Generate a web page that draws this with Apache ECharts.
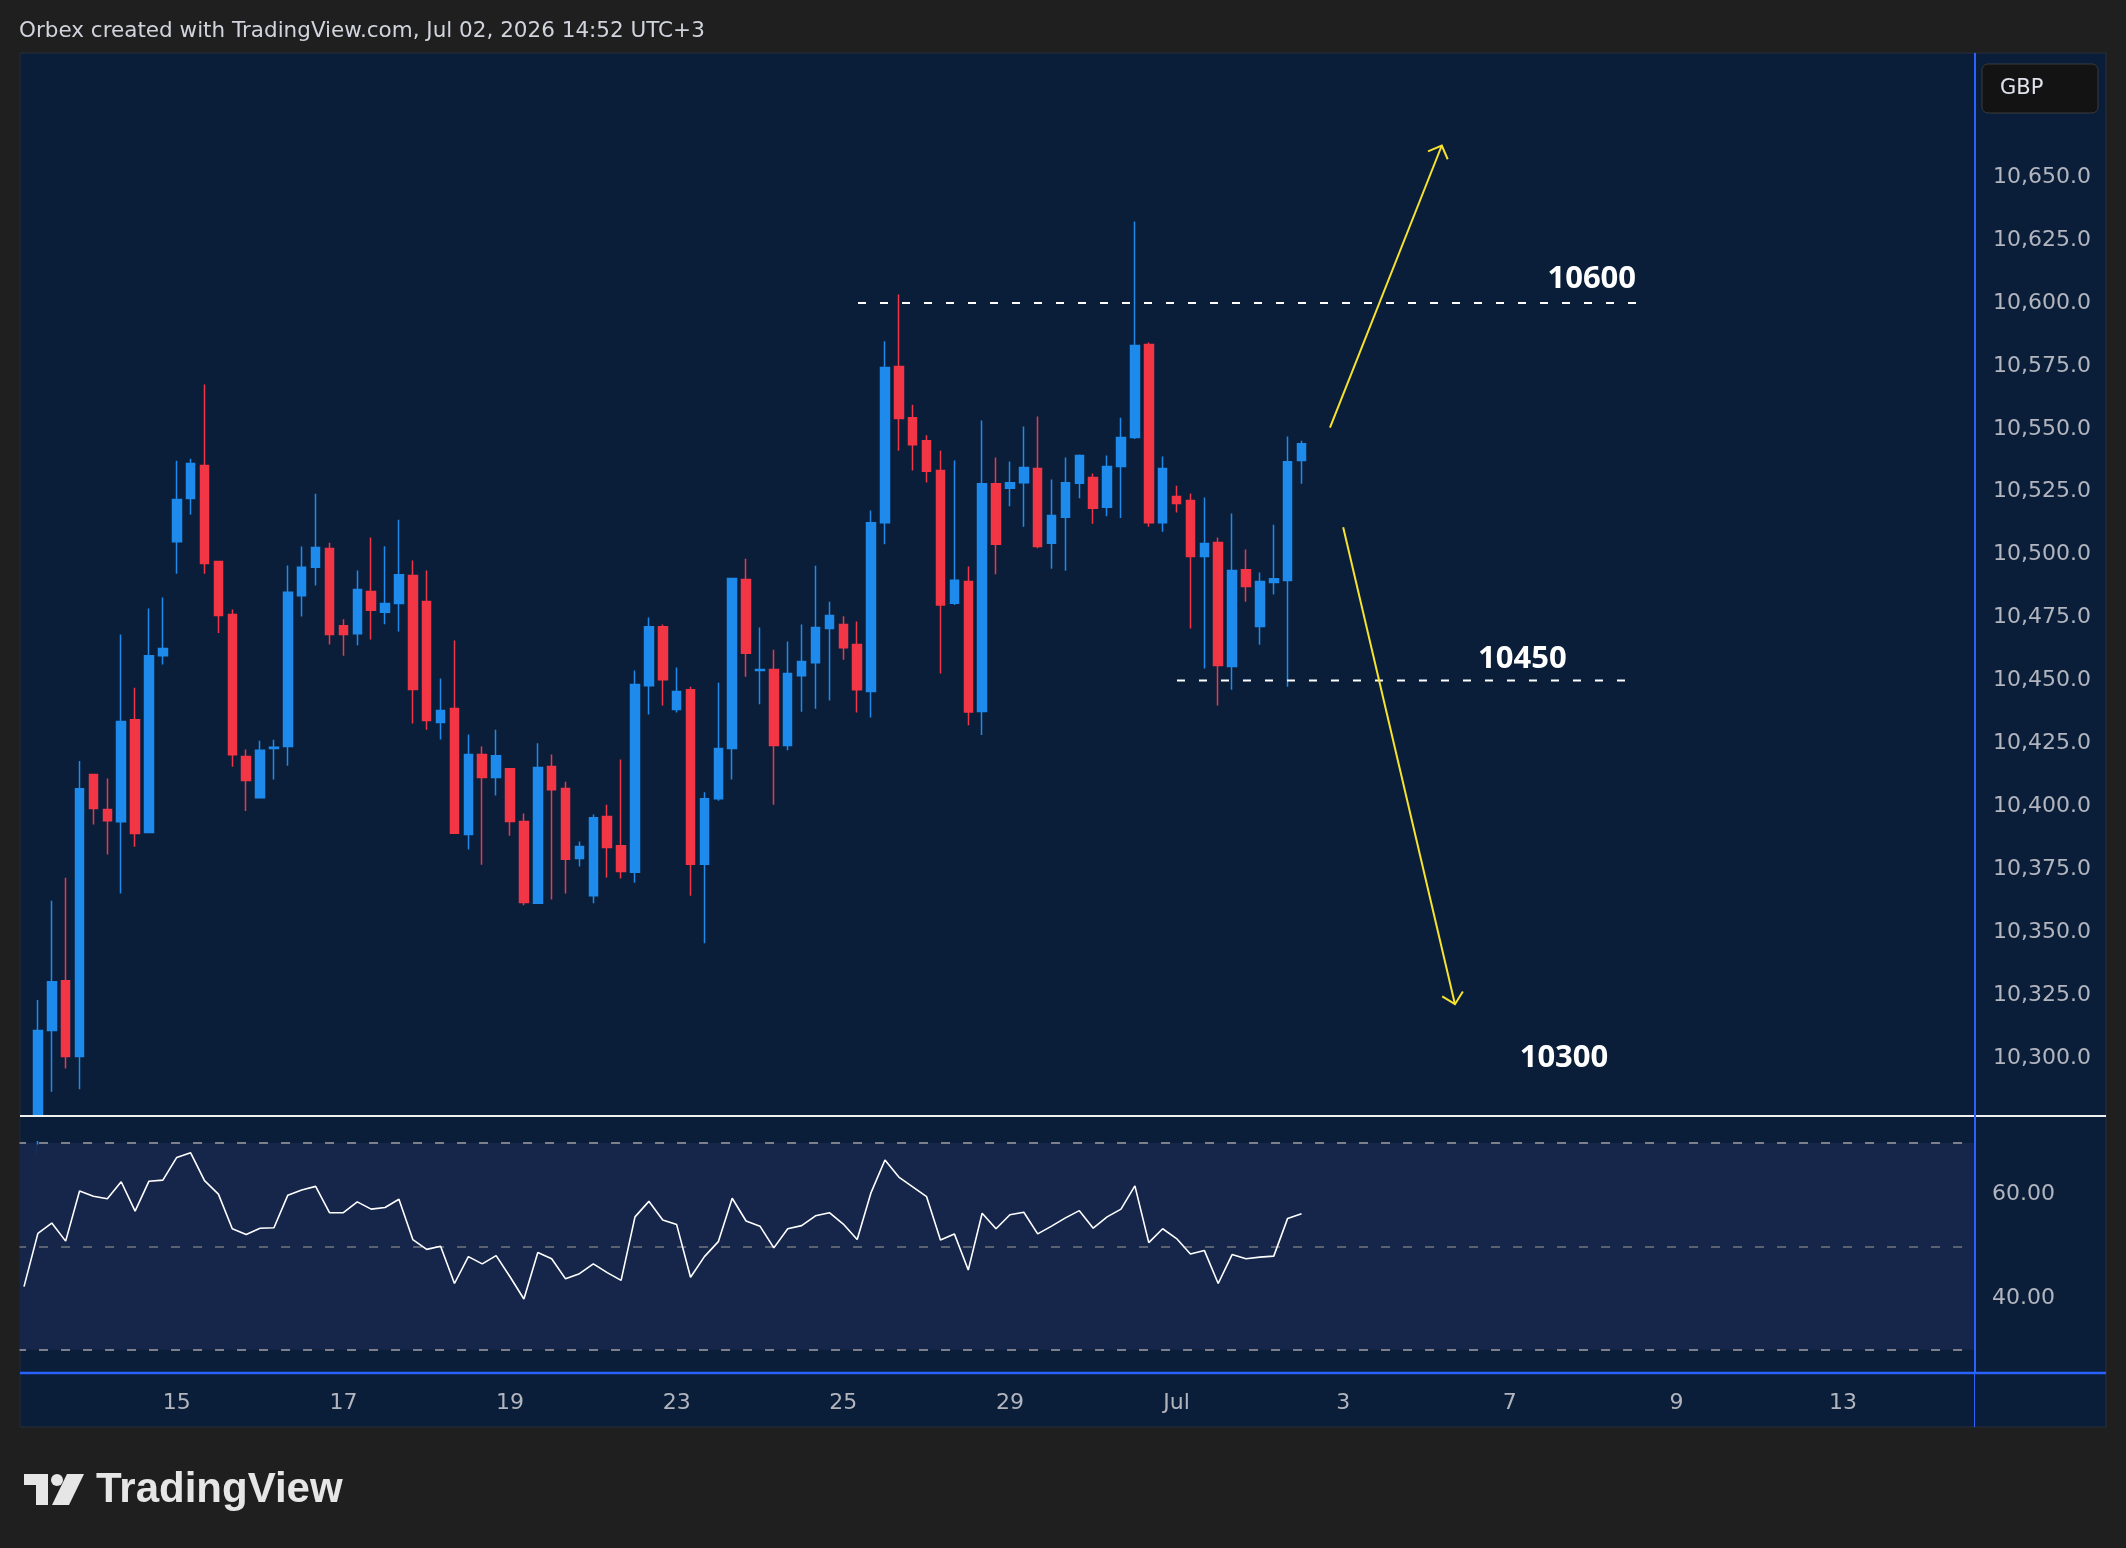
<!DOCTYPE html>
<html>
<head>
<meta charset="utf-8">
<script src="https://cdn.jsdelivr.net/npm/echarts@6/dist/echarts.min.js"></script>
<style>
  html, body { margin: 0; padding: 0; background: #1f1f1f; }
  #chart { width: 2126px; height: 1548px; }
</style>
</head>
<body>
<div id="chart"></div>
<script>
// trading days shown on the chart (6 four-hour bars per day)
const tradingDays = ['Jun 11', 'Jun 12', 'Jun 15', 'Jun 16', 'Jun 17', 'Jun 18', 'Jun 19', 'Jun 22',
  'Jun 23', 'Jun 24', 'Jun 25', 'Jun 26', 'Jun 29', 'Jun 30', 'Jul 1', 'Jul 2', 'Jul 3', 'Jul 6',
  'Jul 7', 'Jul 8', 'Jul 9', 'Jul 10', 'Jul 13', 'Jul 14']
const barsPerDay = 6
const totalSlots = 141

// date ticks: bar number -> text
const tickBars = [10, 22, 34, 46, 58, 70, 82, 94, 106, 118, 130]
const tickText = ['15', '17', '19', '23', '25', '29', 'Jul', '3', '7', '9', '13']

// OHLC, bar 0 = first visible candle
const opens = [10268, 10310.9, 10330.6, 10300.5, 10412.6, 10398.7, 10393.8, 10434.4, 10389.5, 10459.8,
  10505.1, 10522.3, 10535.4, 10497.3, 10476.2, 10419.8, 10403.4, 10422.9, 10423.7, 10483.6,
  10495.0, 10502.4, 10471.7, 10468.5, 10485.3, 10477.1, 10480.6, 10491.7, 10481.4, 10433.3,
  10438.8, 10388.8, 10420.5, 10411.4, 10414.9, 10393.9, 10361.4, 10415.8, 10407.0, 10379.2,
  10364.4, 10395.9, 10384.3, 10373.7, 10447.9, 10471.3, 10438.4, 10446.3, 10376.9, 10403.0,
  10422.9, 10490.1, 10453.9, 10454.3, 10424.1, 10451.8, 10457.0, 10470.6, 10472.2, 10464.3,
  10445.6, 10512.7, 10574.8, 10554.4, 10545.3, 10533.4, 10480.7, 10489.3, 10437.6, 10528.2,
  10526.4, 10528.6, 10534.2, 10504.5, 10514.8, 10528.4, 10530.6, 10518.8, 10535.0, 10546.5,
  10583.5, 10512.7, 10523.1, 10521.5, 10499.2, 10504.8, 10455.5, 10494.0, 10471.4, 10488.9,
  10489.7, 10537.4]
const highs = [10323, 10362.4, 10371.6, 10418.0, 10412.6, 10411.0, 10468.2, 10447.1, 10478.6, 10482.9,
  10537.3, 10538.1, 10567.6, 10497.3, 10478.2, 10422.5, 10426.0, 10426.4, 10495.7, 10503.2,
  10524.2, 10504.7, 10474.3, 10493.7, 10506.8, 10503.3, 10513.9, 10497.7, 10493.7, 10450.8,
  10465.9, 10428.5, 10423.7, 10430.4, 10414.9, 10397.1, 10425.0, 10420.5, 10409.7, 10386.0,
  10396.7, 10400.6, 10418.6, 10453.9, 10475.0, 10472.2, 10455.1, 10447.5, 10405.5, 10449.1,
  10490.5, 10498.4, 10471.0, 10462.2, 10465.5, 10472.2, 10495.6, 10481.3, 10475.5, 10473.4,
  10517.5, 10584.8, 10603.4, 10559.6, 10547.4, 10541.3, 10537.4, 10495.3, 10553.3, 10538.6,
  10537.0, 10550.9, 10554.9, 10529.8, 10538.6, 10539.8, 10532.2, 10539.4, 10554.4, 10632.4,
  10584.3, 10539.0, 10527.4, 10524.3, 10522.7, 10506.8, 10516.3, 10502.0, 10492.9, 10511.9,
  10546.9, 10545.3]
const lows = [10262, 10286.5, 10295.7, 10287.5, 10392.7, 10380.8, 10365.3, 10383.9, 10389.5, 10456.3,
  10492.4, 10515.8, 10492.4, 10468.8, 10415.7, 10398.1, 10403.4, 10410.6, 10416.1, 10475.4,
  10487.7, 10464.3, 10459.8, 10464.0, 10466.3, 10472.3, 10469.4, 10432.9, 10430.4, 10426.5,
  10389.2, 10382.8, 10376.7, 10404.3, 10388.3, 10360.6, 10361.4, 10362.9, 10365.3, 10376.0,
  10361.4, 10371.7, 10371.3, 10369.6, 10436.4, 10440.0, 10437.2, 10364.4, 10345.5, 10402.2,
  10410.6, 10451.5, 10440.5, 10400.6, 10422.2, 10437.5, 10438.7, 10442.0, 10458.2, 10437.2,
  10435.3, 10504.1, 10541.3, 10533.4, 10528.7, 10452.7, 10480.0, 10432.2, 10428.3, 10492.2,
  10519.2, 10511.1, 10502.5, 10494.4, 10493.6, 10522.4, 10512.3, 10515.2, 10514.5, 10545.9,
  10511.1, 10509.1, 10516.7, 10470.6, 10454.7, 10440.0, 10446.3, 10481.3, 10464.2, 10484.1,
  10447.5, 10528.2]
const closes = [10310.9, 10330.2, 10300.5, 10406.9, 10399.1, 10394.2, 10433.7, 10389.1, 10459.8, 10462.7,
  10521.9, 10536.2, 10496.5, 10475.8, 10420.4, 10410.2, 10422.2, 10423.4, 10485.0, 10495.0,
  10502.8, 10468.2, 10468.2, 10486.1, 10477.9, 10480.6, 10492.0, 10446.4, 10434.1, 10438.0,
  10389.2, 10420.5, 10411.4, 10420.1, 10393.9, 10361.7, 10415.4, 10406.5, 10378.9, 10384.0,
  10395.4, 10383.6, 10374.0, 10448.4, 10471.3, 10450.3, 10445.6, 10376.9, 10403.0, 10422.9,
  10490.5, 10460.8, 10454.3, 10424.1, 10452.7, 10457.5, 10471.0, 10475.8, 10463.0, 10446.3,
  10512.7, 10574.4, 10554.1, 10543.7, 10533.1, 10480.0, 10489.8, 10437.4, 10528.2, 10504.1,
  10528.6, 10534.6, 10503.2, 10515.5, 10528.6, 10539.4, 10518.4, 10535.0, 10546.5, 10583.1,
  10512.7, 10534.2, 10520.3, 10499.2, 10504.4, 10455.9, 10493.7, 10487.3, 10489.3, 10490.4,
  10536.9, 10544.1]

// RSI, starts one bar before the first visible candle
const rsi = [42.2, 52.5, 54.5, 51.0, 60.7, 59.7, 59.2, 62.5, 56.8, 62.6, 62.8, 67.2, 68.1, 62.7, 60.1,
  53.4, 52.3, 53.5, 53.6, 59.9, 60.9, 61.6, 56.5, 56.5, 58.6, 57.2, 57.5, 59.1, 51.3, 49.4, 50.0,
  42.8, 48.0, 46.6, 48.2, 44.1, 39.8, 48.8, 47.6, 43.7, 44.7, 46.6, 44.9, 43.4, 55.7, 58.7, 55.1,
  54.2, 44.0, 48.0, 50.9, 59.3, 54.9, 53.9, 49.7, 53.4, 54.0, 55.9, 56.5, 54.3, 51.3, 60.4, 66.7,
  63.4, 61.5, 59.6, 51.2, 52.4, 45.4, 56.4, 53.4, 56.1, 56.6, 52.4, 53.9, 55.5, 56.9, 53.5, 55.7,
  57.2, 61.7, 50.7, 53.4, 51.5, 48.5, 49.2, 42.8, 48.4, 47.6, 47.9, 48.1, 55.4, 56.3]
const rsiBands = [70, 50, 30]

// drawn levels: price, start bar, end bar, label bar, label price
const levelPrices = [10600, 10450]
const levelFrom = [59.06, 82.03]
const levelTo = [115.2, 114.5]
const labelText = ['10600', '10450', '10300']
const labelBar = [111.9, 106.9, 109.9]
const labelPrice = [10609.3, 10458.5, 10300]
// yellow arrows: [bar, price] start and tip
const arrowUp = [[93.05, 10550.5], [101.1, 10662.6]]
const arrowDown = [[94.0, 10510.9], [102.05, 10321.3]]

const navy = '#0a1e3a'
const bandFill = '#16264a'
const upColor = '#1e8bec'
const downColor = '#f23645'
const axisText = '#b2b5be'

const categories = []
for (let k = 0; k < totalSlots; k++) {
    const bar = k - 1
    const d = Math.floor((bar + 2) / barsPerDay)
    categories.push(tradingDays[d] + ' #' + ((bar + 2) % barsPerDay + 1))
}
const candleData = opens.map((o, i) => [i + 1, o, closes[i], lows[i], highs[i]])
const rsiData = rsi.map((v, i) => [i, v])

const chart = echarts.init(document.getElementById('chart'))

const option = {
    animation: false,
    backgroundColor: '#1f1f1f',
    grid: [
        { left: 17.06, width: 1957.94, top: 51.4, height: 1069.3, containLabel: false, outerBoundsMode: 'none' },
        { left: 17.06, width: 1957.94, top: 1091.3, height: 310, containLabel: false, outerBoundsMode: 'none' }
    ],
    xAxis: [
        {
            type: 'category', gridIndex: 0, data: categories, boundaryGap: true,
            axisLine: { show: false }, axisTick: { show: false }, axisLabel: { show: false },
            splitLine: { show: false }
        },
        {
            type: 'category', gridIndex: 1, data: categories, boundaryGap: true, offset: -28,
            axisLine: { show: false }, axisTick: { show: false }, splitLine: { show: false },
            axisLabel: {
                color: axisText, fontFamily: 'DejaVu Sans', fontSize: 22, margin: 19,
                interval: (idx) => tickBars.indexOf(idx - 1) >= 0,
                formatter: (v, idx) => {
                    const t = tickBars.indexOf(idx - 1)
                    return t >= 0 ? tickText[t] : ''
                }
            }
        }
    ],
    yAxis: [
        {
            type: 'value', gridIndex: 0, position: 'right', min: 10275, max: 10700, interval: 25,
            axisLine: { show: false }, axisTick: { show: false }, splitLine: { show: false },
            axisLabel: {
                color: axisText, fontFamily: 'DejaVu Sans', fontSize: 22, margin: 18, align: 'left',
                padding: [4, 0, 0, 0],
                formatter: v => (v < 10300 || v > 10650) ? '' :
                    v.toLocaleString('en-US', { minimumFractionDigits: 1, maximumFractionDigits: 1 })
            }
        },
        {
            type: 'value', gridIndex: 1, position: 'right', min: 20, max: 80, interval: 20,
            axisLine: { show: false }, axisTick: { show: false }, splitLine: { show: false },
            axisLabel: {
                color: axisText, fontFamily: 'DejaVu Sans', fontSize: 22, margin: 17, align: 'left',
                padding: [4, 0, 0, 0],
                formatter: v => (v === 40 || v === 60) ? v.toFixed(2) : ''
            }
        }
    ],
    series: [
        {
            type: 'candlestick', xAxisIndex: 0, yAxisIndex: 0, data: candleData,
            encode: { x: 0, y: [1, 2, 3, 4] },
            barWidth: 9,
            clip: true,
            itemStyle: {
                color: upColor, color0: downColor,
                borderColor: upColor, borderColor0: downColor, borderWidth: 1.5
            },
            z: 5
        },
        {
            type: 'line', xAxisIndex: 1, yAxisIndex: 1, data: rsiData,
            showSymbol: false, symbol: 'none',
            lineStyle: { color: '#ffffff', width: 1.6 },
            z: 6,
            markArea: {
                silent: true,
                itemStyle: { color: bandFill },
                data: [[{ yAxis: rsiBands[0] }, { yAxis: rsiBands[2] }]]
            },
            markLine: {
                silent: true, symbol: 'none', label: { show: false },
                data: rsiBands.map((b, i) => ({
                    yAxis: b,
                    lineStyle: { color: i === 1 ? '#5a6272' : '#7d808a', type: [9, 13], width: 2 }
                }))
            }
        }
    ]
}

chart.setOption(option)

// bar/price -> pixel, with fractional bars
function toPx(bar, price) {
    const a = chart.convertToPixel({ gridIndex: 0 }, [1, price])
    const b = chart.convertToPixel({ gridIndex: 0 }, [2, price])
    return [a[0] + (b[0] - a[0]) * bar, a[1]]
}

function arrow(pts) {
    const s = toPx(pts[0][0], pts[0][1])
    const t = toPx(pts[1][0], pts[1][1])
    const dx = s[0] - t[0], dy = s[1] - t[1]
    const len = Math.hypot(dx, dy)
    const ux = dx / len, uy = dy / len
    const arm = 15, ang = Math.PI / 4
    const rot = (a) => [t[0] + arm * (ux * Math.cos(a) - uy * Math.sin(a)),
                        t[1] + arm * (ux * Math.sin(a) + uy * Math.cos(a))]
    const style = { stroke: '#f7e32f', lineWidth: 2 }
    return [
        { type: 'line', z: 50, shape: { x1: s[0], y1: s[1], x2: t[0], y2: t[1] }, style },
        { type: 'polyline', z: 50, shape: { points: [rot(ang), t, rot(-ang)] }, style }
    ]
}

// first candle x, for hiding its part that runs past the price pane
const firstX = toPx(0, 10500)[0]

const graphics = [
    // panel
    { type: 'rect', z: -10, shape: { x: 20, y: 53, width: 2086, height: 1374 },
      style: { fill: navy, stroke: '#2a2e39', lineWidth: 1 } },
    // header
    { type: 'text', z: 100, style: { x: 19, y: 31, text: 'Orbex created with TradingView.com, Jul 02, 2026 14:52 UTC+3',
      fill: '#d1d4dc', font: '21.5px "DejaVu Sans"', verticalAlign: 'middle' } },
    // cover spill at left edge and below the price pane
    { type: 'rect', z: 90, shape: { x: 0, y: 53, width: 19.5, height: 1374 }, style: { fill: '#1f1f1f' } },
    { type: 'rect', z: 90, shape: { x: 20.5, y: 1116, width: 1954, height: 25 }, style: { fill: navy } },
    { type: 'rect', z: 90, shape: { x: firstX - 1.5, y: 1144.5, width: 3, height: 14 }, style: { fill: bandFill } },
    // pane separators
    { type: 'line', z: 95, shape: { x1: 20, y1: 1116, x2: 2106, y2: 1116 }, style: { stroke: '#f0f0f0', lineWidth: 2 } },
    { type: 'line', z: 95, shape: { x1: 20, y1: 1373, x2: 2106, y2: 1373 }, style: { stroke: '#2962ff', lineWidth: 2.5 } },
    { type: 'line', z: 95, shape: { x1: 1975, y1: 53, x2: 1975, y2: 1373 }, style: { stroke: '#2962ff', lineWidth: 2 } },
    { type: 'line', z: 95, shape: { x1: 1974.5, y1: 1373, x2: 1974.5, y2: 1427 }, style: { stroke: '#2962ff', lineWidth: 1 } },
    // currency box
    { type: 'rect', z: 95, shape: { x: 1982, y: 64, width: 116, height: 49, r: 6 },
      style: { fill: '#131313', stroke: '#3a3a3a', lineWidth: 1 } },
    { type: 'text', z: 96, style: { x: 2000, y: 89, text: 'GBP', fill: '#e0e3eb',
      font: '21px "DejaVu Sans"', verticalAlign: 'middle' } },
    // watermark logo
    { type: 'rect', z: 100, shape: { x: 24, y: 1474, width: 24, height: 11 }, style: { fill: '#e6e6e6' } },
    { type: 'rect', z: 100, shape: { x: 36, y: 1474, width: 12, height: 31 }, style: { fill: '#e6e6e6' } },
    { type: 'circle', z: 100, shape: { cx: 57, cy: 1480, r: 6 }, style: { fill: '#e6e6e6' } },
    { type: 'polygon', z: 100, shape: { points: [[67, 1474], [84, 1474], [69, 1505], [52, 1505]] }, style: { fill: '#e6e6e6' } },
    { type: 'text', z: 100, style: { x: 96, y: 1490, text: 'TradingView', fill: '#e6e6e6',
      font: 'bold 42px "Liberation Sans"', verticalAlign: 'middle' } }
]

levelPrices.forEach((p, i) => {
    const a = toPx(levelFrom[i], p)
    const b = toPx(levelTo[i], p)
    graphics.push({ type: 'line', z: 50, shape: { x1: a[0], y1: a[1], x2: b[0], y2: b[1] },
        style: { stroke: '#ffffff', lineWidth: 2, lineDash: [8, 14] } })
})
labelText.forEach((t, i) => {
    const c = toPx(labelBar[i], labelPrice[i])
    graphics.push({ type: 'text', z: 60, style: { x: c[0], y: c[1], text: t, fill: '#ffffff',
        font: 'bold 31px "Open Sans"', align: 'center', verticalAlign: 'middle' } })
})
graphics.push(...arrow(arrowUp), ...arrow(arrowDown))

chart.setOption({ graphic: graphics })
</script>
</body>
</html>
